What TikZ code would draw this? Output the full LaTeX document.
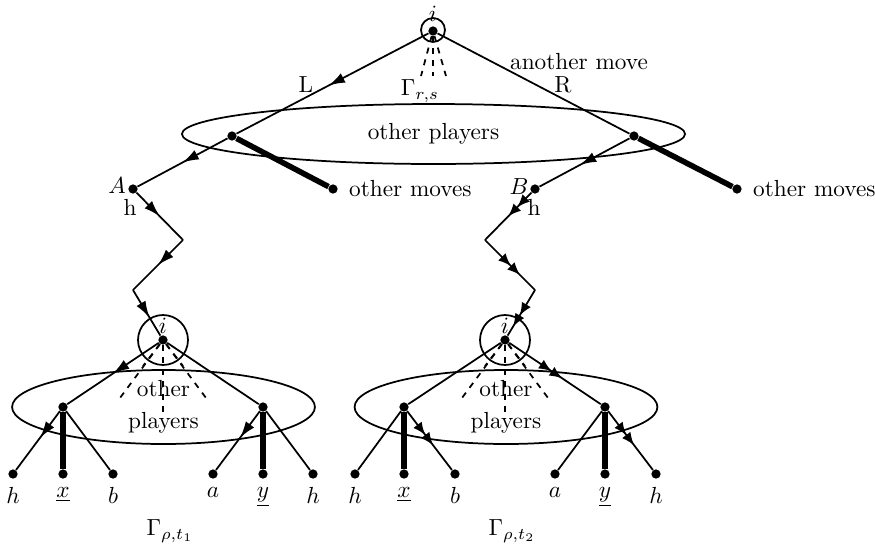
\documentclass[tikz,border=0pt]{standalone}
\usetikzlibrary{arrows.meta,decorations.markings,shapes.geometric}
\begin{document}
\begin{tikzpicture}[x=0.0151cm,y=-0.0151cm,
  dot/.style={circle,fill,inner sep=0pt,minimum size=0.14cm},
  edge/.style={line width=0.75pt},
  heavy/.style={line width=2.4pt},
  fan/.style={line width=0.75pt,dash pattern=on 2.6pt off 2.6pt},
  arr/.style={postaction={decorate},decoration={markings,
      mark=at position #1 with {\arrow{Latex[length=7pt,width=4.5pt]}}}},
  darr/.style={postaction={decorate},decoration={markings,
      mark=at position #1 with {\arrow{Latex[length=5.5pt,width=4.5pt] Latex[length=5.5pt,width=4.5pt]}}}},
  info/.style={draw,ellipse,line width=0.75pt,inner sep=0pt,align=center},
  ring/.style={draw,circle,line width=0.75pt,inner sep=0pt},
  leaf/.style={dot,label={[label distance=0pt]below:#1}}]
\useasboundingbox (0,0) rectangle (875,558);

% ---------- root of the game ----------
\node[ring,minimum size=0.362cm] (rootring) at (433,30) {};
\node[dot] (root) at (433,31) {};
\node (rootlab) at (433,14) {$i$};
\coordinate (rs1) at (421,76);
\coordinate (rs2) at (433,76);
\coordinate (rs3) at (446,76);
\draw[fan] (root) -- (rs1);
\draw[fan] (root) -- (rs2);
\draw[fan] (root) -- (rs3);
\node (grs) at (420,91) {$\Gamma_{r,s}$};
\node (Llab) at (306,85) {L};
\node (Rlab) at (563,85) {R};
\node (another) at (579,62) {another move};

% ---------- other players at the top ----------
\node[info,minimum width=7.6cm,minimum height=0.906cm] (topset) at (433.5,134) {other players};
\node[dot] (pl) at (232,136) {};
\node[dot] (pr) at (634,136) {};
\node[dot] (om1) at (333,189) {};
\node[dot] (om2) at (737,189) {};
\node[anchor=west] (om1lab) at (341,189) {other moves};
\node[anchor=west] (om2lab) at (745,189) {other moves};
\node[dot] (A) at (133,189) {};
\node[dot] (B) at (535,189) {};
\node (Alab) at (117,186) {$A$};
\node (Ah) at (130,207) {h};
\node (Blab) at (519,187) {$B$};
\node (Bh) at (534,207) {h};

\draw[edge,arr=0.52] (root) -- (pl);
\draw[edge] (root) -- (pr);
\draw[heavy] (pl) -- (om1);
\draw[heavy] (pr) -- (om2);
\draw[edge,arr=0.5] (pl) -- (A);
\draw[edge,arr=0.55] (pr) -- (B);

% ---------- paths down to the two subgames ----------
\coordinate (a1) at (183,240);
\coordinate (a2) at (133,290);
\coordinate (b1) at (485,240);
\coordinate (b2) at (535,290);

\node[ring,minimum size=0.755cm] (lring) at (163,340) {};
\node[dot] (li) at (163,340) {};
\node (lilab) at (163,326) {$i$};
\node[ring,minimum size=0.755cm] (rring) at (505,340) {};
\node[dot] (ri) at (505,340) {};
\node (rilab) at (505,326) {$i$};

\draw[edge,arr=0.5] (A) -- (a1);
\draw[edge,arr=0.5] (a1) -- (a2);
\draw[edge,arr=0.6] (a2) -- (li);
\draw[edge,darr=0.5] (B) -- (b1);
\draw[edge,darr=0.7] (b1) -- (b2);
\draw[edge,darr=0.8] (b2) -- (ri);

% ---------- left subgame ----------
\node[info,minimum width=4.575cm,minimum height=0.906cm] (lset) at (163.5,407) {other\\[1.5pt]players};
\node[dot] (lp1) at (63,407) {};
\node[dot] (lp2) at (263,407) {};
\node[leaf=$h$] (lh1) at (13,474) {};
\node[leaf=$\underline{x}$] (lx) at (63,474) {};
\node[leaf=$b$] (lb) at (113,474) {};
\node[leaf=$a$] (la) at (213,474) {};
\node[leaf=$\underline{y}$] (ly) at (263,474) {};
\node[leaf=$h$] (lh2) at (313,474) {};
\coordinate (lf1) at (117,402);
\coordinate (lf2) at (143,366);
\coordinate (lf3) at (163,412);
\coordinate (lf4) at (183,366);
\coordinate (lf5) at (209,402);
\foreach \e in {lf1,lf2,lf3,lf4,lf5} \draw[fan] (li) -- (\e);

\draw[edge,arr=0.5] (li) -- (lp1);
\draw[edge] (li) -- (lp2);
\draw[edge,arr=0.45] (lp1) -- (lh1);
\draw[heavy] (lp1) -- (lx);
\draw[edge] (lp1) -- (lb);
\draw[edge,arr=0.45] (lp2) -- (la);
\draw[heavy] (lp2) -- (ly);
\draw[edge] (lp2) -- (lh2);

% ---------- right subgame ----------
\node[info,minimum width=4.575cm,minimum height=0.906cm] (rset) at (506,407) {other\\[1.5pt]players};
\node[dot] (rp1) at (404,407) {};
\node[dot] (rp2) at (605,407) {};
\node[leaf=$h$] (rh1) at (355,474) {};
\node[leaf=$\underline{x}$] (rx) at (404,474) {};
\node[leaf=$b$] (rb) at (455,474) {};
\node[leaf=$a$] (ra) at (555,474) {};
\node[leaf=$\underline{y}$] (ry) at (605,474) {};
\node[leaf=$h$] (rh2) at (656,474) {};
\coordinate (rf1) at (459,402);
\coordinate (rf2) at (485,366);
\coordinate (rf3) at (505,412);
\coordinate (rf4) at (525,366);
\coordinate (rf5) at (551,402);
\foreach \e in {rf1,rf2,rf3,rf4,rf5} \draw[fan] (ri) -- (\e);

\draw[edge] (ri) -- (rp1);
\draw[edge,darr=0.58] (ri) -- (rp2);
\draw[edge] (rp1) -- (rh1);
\draw[heavy] (rp1) -- (rx);
\draw[edge,darr=0.58] (rp1) -- (rb);
\draw[edge] (rp2) -- (ra);
\draw[heavy] (rp2) -- (ry);
\draw[edge,darr=0.58] (rp2) -- (rh2);

% ---------- subgame names ----------
\node (g1) at (170,531) {$\Gamma_{\rho,t_1}$};
\node (g2) at (512,531) {$\Gamma_{\rho,t_2}$};
\end{tikzpicture}
\end{document}
